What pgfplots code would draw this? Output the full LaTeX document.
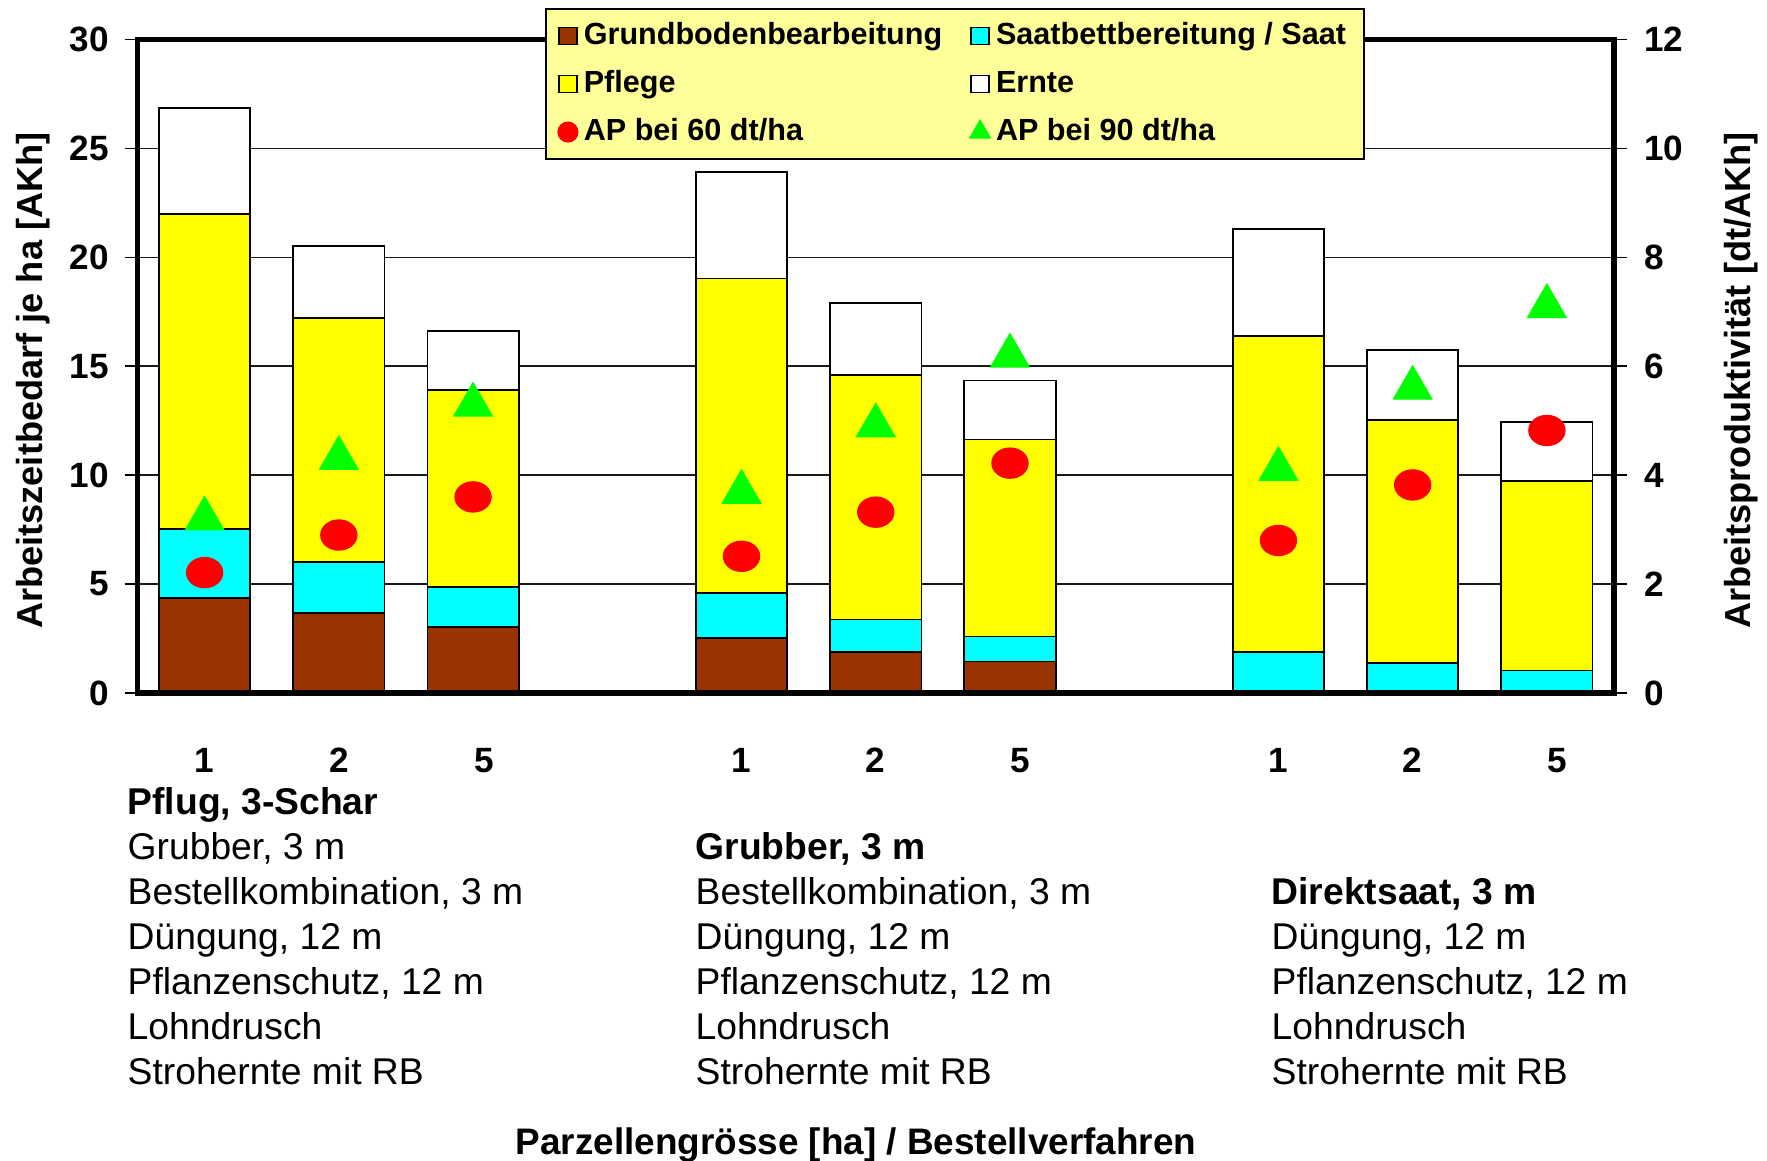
\documentclass[border=0pt]{standalone}
\usepackage{fontspec}
\setmainfont{Liberation Sans}
\usepackage{pgfplots}
\usepackage{pgfplotstable}
\pgfplotsset{compat=1.18}

\definecolor{grund}{HTML}{993300}
\definecolor{saat}{HTML}{00FFFF}
\definecolor{pflege}{HTML}{FFFF00}
\definecolor{legbg}{HTML}{FFFF99}
\definecolor{apred}{HTML}{FF0000}
\definecolor{apgreen}{HTML}{00FF00}

% Arbeitszeitbedarf [AKh/ha], slots 0-2, 4-6, 8-10
\pgfplotstableread{
x  grund saat pflege ernte
0  4.36  3.18 14.46  4.86
1  3.66  2.34 11.22  3.28
2  3.03  1.83  9.04  2.70
4  2.53  2.06 14.44  4.87
5  1.89  1.48 11.22  3.30
6  1.45  1.14  9.05  2.70
8  0     1.89 14.51  4.90
9  0     1.37 11.16  3.22
10 0     1.03  8.70  2.71
}\stacks

% Arbeitsproduktivitaet [dt/AKh]
\pgfplotstableread{
x  ap60 ap90
0  2.21 3.30
1  2.90 4.41
2  3.60 5.39
4  2.51 3.79
5  3.32 5.01
6  4.22 6.29
8  2.80 4.21
9  3.82 5.70
10 4.82 7.20
}\aptab

\pgfplotsset{
  sqlegend/.style={legend image code/.code={%
    \draw[##1] (0cm,-0.085cm) rectangle (0.18cm,0.085cm);}},
  mklegend/.style={legend image code/.code={%
    \draw[##1] plot coordinates {(0.09cm,0cm)};}},
  bothaxes/.style={
    at={(1.375cm,4.68cm)}, anchor=south west,
    scale only axis, width=14.765cm, height=6.536cm,
    xmin=-0.5, xmax=10.5, ymin=0,
    axis line style={line width=1.5pt},
    tick align=outside, major tick length=0.13cm,
    ytick style={black, line width=0.4pt},
    tick label style={font=\bfseries\fontsize{10}{11}\selectfont},
    /pgf/number format/assume math mode=true,
  },
}

\begin{document}
\begin{tikzpicture}
\useasboundingbox (0,0) rectangle (17.67,11.61);

\begin{axis}[
  bothaxes, ymax=30,
  ybar stacked, bar width=0.68,
  xtick={0,1,2.08,4,5,6.08,8,9,10.08},
  xticklabels={1,2,5,1,2,5,1,2,5},
  xtick style={draw=none},
  xticklabel style={yshift=-0.30cm},
  ytick={0,5,...,30}, ytick pos=left,
  yticklabel style={xshift=-0.03cm},
  ymajorgrids, major grid style={black!90, line width=0.4pt},
  ylabel={Arbeitszeitbedarf je ha [AKh]},
  every axis y label/.style={at={(axis description cs:-0.0708,0.478)},
    rotate=90, anchor=center, font=\bfseries\fontsize{10.3}{12}\selectfont},
  legend columns=2, legend cell align=left,
  legend style={
    at={(0.5537,1.048)}, anchor=north,
    fill=legbg, draw=black, line width=0.6pt,
    font=\bfseries\fontsize{8.7}{10}\selectfont,
    inner xsep=0.12cm, inner ysep=0.03cm,
    nodes={inner xsep=0.06cm, inner ysep=0.08cm, text height=0.24cm, text depth=0.08cm},
    /tikz/every even column/.append style={column sep=0.22cm},
  },
]
\addplot[fill=grund, draw=black, line width=0.5pt, sqlegend] table[x=x,y=grund]{\stacks};
\addlegendentry{Grundbodenbearbeitung}
\addplot[fill=saat, draw=black, line width=0.5pt, sqlegend] table[x=x,y=saat]{\stacks};
\addlegendentry{Saatbettbereitung / Saat}
\addplot[fill=pflege, draw=black, line width=0.5pt, sqlegend] table[x=x,y=pflege]{\stacks};
\addlegendentry{Pflege}
\addplot[fill=white, draw=black, line width=0.5pt, sqlegend] table[x=x,y=ernte]{\stacks};
\addlegendentry{Ernte}
\addlegendimage{only marks, mark=*, mark size=0.095cm, color=apred, mklegend}
\addlegendentry{AP bei 60 dt/ha}
\addlegendimage{only marks, mark=triangle*, mark size=0.11cm, color=apgreen, mklegend}
\addlegendentry{AP bei 90 dt/ha}
\end{axis}

\begin{axis}[
  bothaxes, ymax=12,
  axis x line*=bottom, xtick=\empty,
  axis y line*=right,
  ytick={0,2,...,12},
  yticklabel style={xshift=0.05cm},
  ylabel={Arbeitsproduktivität [dt/AKh]},
  every axis y label/.style={at={(axis description cs:1.086,0.478)},
    rotate=90, anchor=center, font=\bfseries\fontsize{10.3}{12}\selectfont},
]
\addplot[only marks, mark=*, mark size=0.15cm, color=apred,
  mark options={xscale=1.2}] table[x=x,y=ap60]{\aptab};
\addplot[only marks, mark=triangle*, mark size=0.22cm, color=apgreen,
  mark options={yshift=-0.055cm}] table[x=x,y=ap90]{\aptab};
\end{axis}

\begin{scope}[every node/.style={anchor=base west, inner sep=0pt,
    font=\fontsize{10.6}{12}\selectfont}]
  % Pflug
  \node at (1.27,3.46) {\bfseries Pflug, 3-Schar};
  \node at (1.27,3.01) {Grubber, 3 m};
  \node at (1.27,2.56) {Bestellkombination, 3 m};
  \node at (1.27,2.11) {Düngung, 12 m};
  \node at (1.27,1.66) {Pflanzenschutz, 12 m};
  \node at (1.27,1.21) {Lohndrusch};
  \node at (1.27,0.76) {Strohernte mit RB};
  % Grubber
  \node at (6.95,3.01) {\bfseries Grubber, 3 m};
  \node at (6.95,2.56) {Bestellkombination, 3 m};
  \node at (6.95,2.11) {Düngung, 12 m};
  \node at (6.95,1.66) {Pflanzenschutz, 12 m};
  \node at (6.95,1.21) {Lohndrusch};
  \node at (6.95,0.76) {Strohernte mit RB};
  % Direktsaat
  \node at (12.71,2.56) {\bfseries Direktsaat, 3 m};
  \node at (12.71,2.11) {Düngung, 12 m};
  \node at (12.71,1.66) {Pflanzenschutz, 12 m};
  \node at (12.71,1.21) {Lohndrusch};
  \node at (12.71,0.76) {Strohernte mit RB};
\end{scope}
\node[anchor=base, inner sep=0pt, font=\bfseries\fontsize{10.5}{12}\selectfont]
  at (8.56,0.06) {Parzellengrösse [ha] / Bestellverfahren};
\end{tikzpicture}
\end{document}
